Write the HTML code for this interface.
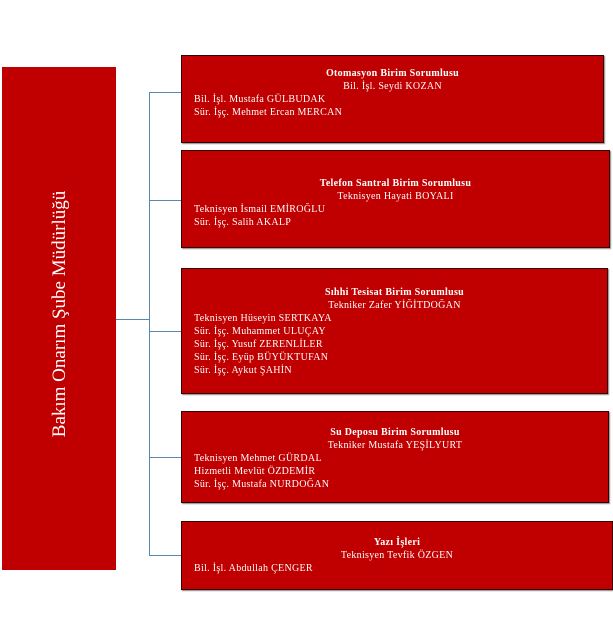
<!DOCTYPE html>
<html><head><meta charset="utf-8"><style>
html,body{margin:0;padding:0;background:#fff;width:613px;height:643px;overflow:hidden;position:relative;font-family:"Liberation Serif",serif;}
.b{position:absolute;background:#c00000;border:1px solid #3a0000;box-shadow:1px 1px 1px #888;color:#fff;font-size:10px;line-height:13px;box-sizing:border-box;letter-spacing:0.3px;}
.t{text-align:center;font-weight:bold;}
.c{text-align:center;}
.l{padding-left:12px;}
.ln{position:absolute;background:#5b87ad;}
</style></head><body>
<div class="b" style="left:2px;top:67px;width:114px;height:503px;border:none;box-shadow:none;"></div>
<div style="position:absolute;left:60px;top:314px;width:0;height:0;">
<div style="position:absolute;left:-140px;top:-12px;width:280px;text-align:center;color:#fff;font-size:19px;line-height:24px;transform:rotate(-90deg);white-space:nowrap;">Bakım Onarım Şube Müdürlüğü</div></div>

<div class="ln" style="left:149px;top:92px;width:1px;height:463px;"></div>
<div class="ln" style="left:116px;top:319px;width:33px;height:1px;"></div>
<div class="ln" style="left:149px;top:92px;width:32px;height:1px;"></div>
<div class="ln" style="left:149px;top:200px;width:32px;height:1px;"></div>
<div class="ln" style="left:149px;top:331px;width:32px;height:1px;"></div>
<div class="ln" style="left:149px;top:457px;width:32px;height:1px;"></div>
<div class="ln" style="left:149px;top:555px;width:32px;height:1px;"></div>

<div class="b" style="left:181px;top:55px;width:423px;height:88px;padding-top:11px;">
<div class="t">Otomasyon Birim Sorumlusu</div><div class="c">Bil. İşl. Seydi KOZAN</div>
<div class="l">Bil. İşl. Mustafa GÜLBUDAK</div><div class="l">Sür. İşç. Mehmet Ercan MERCAN</div></div>

<div class="b" style="left:181px;top:150px;width:429px;height:98px;padding-top:26px;">
<div class="t">Telefon Santral Birim Sorumlusu</div><div class="c">Teknisyen Hayati BOYALI</div>
<div class="l">Teknisyen İsmail EMİROĞLU</div><div class="l">Sür. İşç. Salih AKALP</div></div>

<div class="b" style="left:181px;top:268px;width:427px;height:126px;padding-top:17px;">
<div class="t">Sıhhi Tesisat Birim Sorumlusu</div><div class="c">Tekniker Zafer YİĞİTDOĞAN</div>
<div class="l">Teknisyen Hüseyin SERTKAYA</div><div class="l">Sür. İşç. Muhammet ULUÇAY</div>
<div class="l">Sür. İşç. Yusuf ZERENLİLER</div><div class="l">Sür. İşç. Eyüp BÜYÜKTUFAN</div>
<div class="l">Sür. İşç. Aykut ŞAHİN</div></div>

<div class="b" style="left:181px;top:411px;width:428px;height:92px;padding-top:14px;">
<div class="t">Su Deposu Birim Sorumlusu</div><div class="c">Tekniker Mustafa YEŞİLYURT</div>
<div class="l">Teknisyen Mehmet GÜRDAL</div><div class="l">Hizmetli Mevlüt ÖZDEMİR</div>
<div class="l">Sür. İşç. Mustafa NURDOĞAN</div></div>

<div class="b" style="left:181px;top:521px;width:432px;height:69px;padding-top:14px;">
<div class="t">Yazı İşleri</div><div class="c">Teknisyen Tevfik ÖZGEN</div>
<div class="l">Bil. İşl. Abdullah ÇENGER</div></div>
</body></html>
